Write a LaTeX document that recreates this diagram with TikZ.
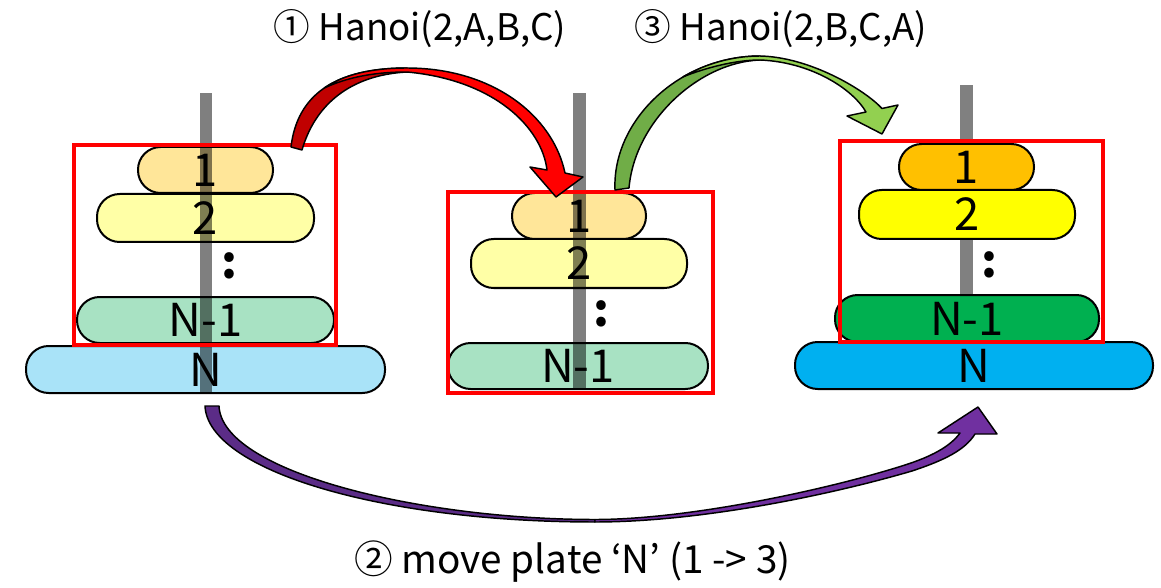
\documentclass[tikz,border=0pt]{standalone}
\usepackage{fontspec}
\setmainfont{Noto Sans CJK KR}
\definecolor{pA}{HTML}{FFE699}
\definecolor{pB}{HTML}{FFFFA6}
\definecolor{pC}{HTML}{A8E2C3}
\definecolor{pD}{HTML}{A9E3F8}
\definecolor{qA}{HTML}{FFC000}
\definecolor{qB}{HTML}{FFFF00}
\definecolor{qC}{HTML}{00B050}
\definecolor{qD}{HTML}{00B0F0}
\definecolor{rdark}{HTML}{C00000}
\definecolor{rlight}{HTML}{FF0000}
\definecolor{gdark}{HTML}{70AD47}
\definecolor{glight}{HTML}{92D050}
\definecolor{vdark}{HTML}{5B2C87}
\definecolor{vlight}{HTML}{7030A0}
\definecolor{polegray}{HTML}{808080}
\newcommand\platefont{\fontsize{34}{34}\selectfont}
\newcommand\titlefont{\fontsize{27.5}{31}\selectfont}
\newcommand\bottomfont{\fontsize{29}{32}\selectfont}
\begin{document}
\begin{tikzpicture}[x=0.75pt,y=-0.75pt,
  plate/.style={draw=black, line width=1.5pt, rounded corners=17pt, inner sep=0pt, font=\platefont},
  dots/.style={inner sep=0pt, font=\platefont\bfseries},
  pole/.style={fill=black, fill opacity=0.5},
  frame/.style={draw=rlight, line width=2.6pt},
  arrowshape/.style={draw=black, line width=1.1pt, line join=round},
  titletxt/.style={inner sep=0pt, font=\titlefont},
  bottomtxt/.style={inner sep=0pt, font=\bottomfont}]
\useasboundingbox (0,0) rectangle (1161,588);

% ---------- Tower 1 ----------
\node[plate, fill=pD, minimum width=359*0.75pt, minimum height=47*0.75pt] (a4) at (205.5,369.5) {N};
\node[plate, fill=pC, minimum width=257*0.75pt, minimum height=46*0.75pt] (a3) at (205.5,320) {N-1};
\node[plate, fill=pB, minimum width=217*0.75pt, minimum height=48*0.75pt] (a2) at (205.5,218) {2};
\node[plate, fill=pA, minimum width=135*0.75pt, minimum height=46*0.75pt] (a1) at (205.5,170) {1};
\node[dots] (ad) at (229,265.5) {:};
\fill[pole] (200,93) rectangle (212,392);
\draw[frame] (74,145) rectangle (336,345);

% ---------- Tower 2 ----------
\node[plate, fill=pC, minimum width=260*0.75pt, minimum height=46*0.75pt] (b3) at (578,366) {N-1};
\node[plate, fill=pB, minimum width=216*0.75pt, minimum height=49*0.75pt] (b2) at (579,263.5) {2};
\node[plate, fill=pA, minimum width=134*0.75pt, minimum height=46*0.75pt] (b1) at (579,216) {1};
\node[dots] (bd) at (601.5,313.5) {:};
\fill[pole] (573,93) rectangle (586,390);
\draw[frame] (448,192) rectangle (713,393);

% ---------- Tower 3 ----------
\fill[polegray] (960,85) rectangle (973,320);
\node[plate, fill=qD, minimum width=358*0.75pt, minimum height=47*0.75pt] (c4) at (974,365.5) {N};
\node[plate, fill=qC, minimum width=264*0.75pt, minimum height=47*0.75pt] (c3) at (967,318.5) {N-1};
\node[plate, fill=qB, minimum width=216*0.75pt, minimum height=49*0.75pt] (c2) at (967,214.5) {2};
\node[plate, fill=qA, minimum width=135*0.75pt, minimum height=46*0.75pt] (c1) at (966.5,167) {1};
\node[dots] (cd) at (989.5,264.5) {:};
\draw[frame] (840,141) rectangle (1103,342);

% ---------- Arrow 1 (red) ----------
\filldraw[arrowshape, fill=rdark]
  (291,147) .. controls (297,95) and (335,68) .. (407,68) -- (407,72)
  .. controls (350,75) and (315,105) .. (302,150) -- cycle;
\filldraw[arrowshape, fill=rlight]
  (324.25,88) .. controls (343.5,74.75) and (371,68) .. (407,68)
  .. controls (493,68) and (553,116) .. (565,173)
  -- (583,177) -- (556,197) -- (530,167) -- (547,170)
  .. controls (542,128) and (495,80) .. (407,72)
  .. controls (372,72) and (346,78) .. (324.25,88) -- cycle;

% ---------- Arrow 3 (green) ----------
\filldraw[arrowshape, fill=gdark]
  (615,190) .. controls (612,120) and (680,56) .. (760,56) -- (760,60)
  .. controls (700,62) and (635,120) .. (629,188) -- cycle;
\filldraw[arrowshape, fill=glight]
  (683,76.85) .. controls (705.5,63.84) and (732,56) .. (760,56)
  .. controls (810,57) and (865,90) .. (882,108.5)
  -- (898,105) -- (882,134) -- (847,116) -- (866,112)
  .. controls (852,88) and (810,62) .. (760,60)
  .. controls (735,60) and (705,68) .. (683,76.85) -- cycle;

% ---------- Arrow 2 (purple) ----------
\filldraw[arrowshape, fill=vdark]
  (205,406) .. controls (208,470) and (380,522) .. (595,522)
  -- (595,519.5) .. controls (420,519.5) and (222,472) .. (219,406) -- cycle;
\filldraw[arrowshape, fill=vlight]
  (595,522) .. controls (700,522) and (830,495) .. (912,471)
  .. controls (945,460) and (965,450) .. (975,434)
  -- (997,434) -- (978,407) -- (938,433) -- (960,433)
  .. controls (950,447) and (930,457) .. (905,465)
  .. controls (830,489) and (690,519.5) .. (595,519.5) -- cycle;

% ---------- Labels ----------
\node[titletxt] (t1) at (420,28.5) {① Hanoi(2,A,B,C)};
\node[titletxt] (t3) at (781,28.5) {③ Hanoi(2,B,C,A)};
\node[bottomtxt] (t2) at (572.5,561.5) {② move plate ‘N’ (1 -> 3)};
\end{tikzpicture}
\end{document}
